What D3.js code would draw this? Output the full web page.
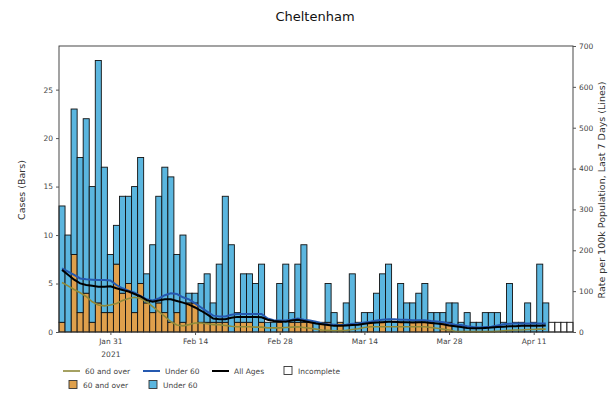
<!DOCTYPE html>
<html><head><meta charset="utf-8">
<script src="https://cdn.jsdelivr.net/npm/d3@7"></script>
<style>body{margin:0;background:#fff;} text{font-family:"DejaVu Sans",sans-serif;}</style>
</head><body><svg id="c" width="615" height="393"></svg>
<script>
const startDate = "2021-01-23";
const over60Cases = [1,0,8,2,4,1,3,2,2,7, 4,5,2,5,3,2,3,2,1,2, 1,3,3,1,1,1,1,1,0,1, 1,1,0,1,0,0,1,0,1,1, 1,1,0,1,1,0,1,0,0,0, 0,1,0,1,0,0,1,0,1,1, 1,1,0,1,1,0,0,0,0,0, 0,0,0,0,0,0,0,0,0,0,0];
const under60Cases = [12,10,15,16,18,14,25,15,6,4, 10,9,13,13,3,7,11,15,15,6, 9,1,1,4,5,2,6,13,9,1, 5,5,5,6,1,1,4,7,1,6, 8,0,1,0,4,2,0,3,6,1, 2,1,4,5,7,1,4,3,2,3, 4,1,2,1,2,3,1,2,1,1, 2,2,2,1,5,1,1,3,1,7,3];
const incompleteDays = ["2021-04-14","2021-04-15","2021-04-16","2021-04-17"];
const incompleteHeight = [1,1,1,1];
const rateOver60 = [121,113,104,96,87,74,66,64,66,70, 77,82,85,82,74,62,50,38,25,17, 15,18,22,22,20,18,18,16,14,13, 13,13,12,12,10,10,10,11,12,13, 11,9,7,5,4,3,3,4,6,8, 11,13,13,13,13,13,13,13,13,13, 13,11,9,7,5,2,1,1,1,1, 1,1,2,3,4,5,5,6,6,7,7];
const rateUnder60 = [156,148,140,131,129,128,127,127,126,115, 107,101,96,88,80,77,82,90,95,93, 85,80,70,60,50,40,38,38,42,44, 44,44,44,44,33,29,28,28,30,33, 30,28,25,21,19,18,17,18,20,21, 23,25,28,30,31,31,30,30,29,29, 29,27,26,24,21,18,17,14,12,11, 12,13,16,19,20,21,21,21,21,21,21];
const rateAll = [152,140,128,119,115,113,111,111,112,107, 103,99,93,87,78,74,77,80,80,76, 72,67,60,52,43,33,31,31,35,37, 37,37,37,36,30,27,26,25,28,30, 27,24,21,19,17,15,15,16,17,18, 20,22,23,24,25,25,24,24,23,24, 24,22,21,19,16,14,12,10,9,9, 10,11,12,13,14,14,15,15,15,15,16];
const leftTicks = [0,5,10,15,20,25];
const rightTicks = [0,100,200,300,400,500,600,700];
const dateTicks = ["2021-01-31","2021-02-14","2021-02-28","2021-03-14","2021-03-28","2021-04-11"];

const C = {orange:"#dfa04c", blue:"#5bb6df", lOld:"#8f8a3a", lYoung:"#2559b0", lAll:"#000"};
const svg = d3.select("#c");
const L=59, R=573, T=46, B=332;
const parse = d3.utcParse("%Y-%m-%d");
const day = 864e5;
const start = parse(startDate);
const dates = under60Cases.map((d,i)=> new Date(+start + i*day));
const x = d3.scaleUtc().domain([new Date(+start - day/2), new Date(+parse(incompleteDays[incompleteDays.length-1]) + day/2)]).range([L,R]);
const yL = d3.scaleLinear().domain([0,29.5]).range([B,T]);
const yR = d3.scaleLinear().domain([0,700]).range([B,T]);

const g = svg.append("g");
// bars
const bw = d => x(new Date(+d + day/2)) - x(new Date(+d - day/2));
g.selectAll("rect.old").data(dates).join("rect")
  .attr("x", d=>x(new Date(+d - day/2))).attr("width", d=>bw(d))
  .attr("y", (d,i)=>yL(over60Cases[i])).attr("height",(d,i)=>yL(0)-yL(over60Cases[i]))
  .attr("fill",C.orange).attr("stroke","#111").attr("stroke-width",0.9);
g.selectAll("rect.young").data(dates).join("rect")
  .attr("x", d=>x(new Date(+d - day/2))).attr("width", d=>bw(d))
  .attr("y", (d,i)=>yL(over60Cases[i]+under60Cases[i])).attr("height",(d,i)=>yL(over60Cases[i])-yL(over60Cases[i]+under60Cases[i]))
  .attr("fill",C.blue).attr("stroke","#111").attr("stroke-width",0.9);
g.selectAll("rect.inc").data(incompleteDays.map(parse)).join("rect")
  .attr("x", d=>x(new Date(+d - day/2))).attr("width", d=>bw(d))
  .attr("y", (d,i)=>yL(incompleteHeight[i])).attr("height",(d,i)=>yL(0)-yL(incompleteHeight[i]))
  .attr("fill","#fff").attr("stroke","#111").attr("stroke-width",0.9);
// lines
const line = arr => d3.line().x((d,i)=>x(dates[i])).y(d=>yR(d))(arr);
g.append("path").attr("d",line(rateOver60)).attr("fill","none").attr("stroke",C.lOld).attr("stroke-width",1.6);
g.append("path").attr("d",line(rateUnder60)).attr("fill","none").attr("stroke",C.lYoung).attr("stroke-width",2);
g.append("path").attr("d",line(rateAll)).attr("fill","none").attr("stroke",C.lAll).attr("stroke-width",2);

// frame
svg.append("rect").attr("x",L).attr("y",T).attr("width",R-L).attr("height",B-T).attr("fill","none").attr("stroke","#333").attr("stroke-width",0.9);

const fs = "7.5px", tc="#444";
const ax = svg.append("g").attr("transform",`translate(0,${B})`)
  .call(d3.axisBottom(x).tickValues(dateTicks.map(parse)).tickFormat(d3.utcFormat("%b %d")).tickSize(3).tickPadding(4));
ax.select(".domain").remove();
ax.selectAll("text").attr("font-size",fs).attr("fill",tc).attr("font-family","DejaVu Sans");
ax.selectAll("line").attr("stroke","#555");
ax.selectAll(".tick").filter((d,i)=>i===0).append("text").attr("y",20).attr("dy","0.71em").attr("fill",tc).attr("font-size",fs).attr("text-anchor","middle").text("2021");

const al = svg.append("g").attr("transform",`translate(${L},0)`).call(d3.axisLeft(yL).tickValues(leftTicks).tickSize(3).tickPadding(3));
al.select(".domain").remove();
al.selectAll("text").attr("font-size",fs).attr("fill",tc).attr("font-family","DejaVu Sans");
al.selectAll("line").attr("stroke","#555");
const ar = svg.append("g").attr("transform",`translate(${R},0)`).call(d3.axisRight(yR).tickValues(rightTicks).tickSize(3).tickPadding(3));
ar.select(".domain").remove();
ar.selectAll("text").attr("font-size",fs).attr("fill",tc).attr("font-family","DejaVu Sans");
ar.selectAll("line").attr("stroke","#555");

svg.append("text").attr("x",315).attr("y",21).attr("text-anchor","middle").attr("font-size","13px").attr("fill","#111").text("Cheltenham");
svg.append("text").attr("transform","translate(25,190) rotate(-90)").attr("text-anchor","middle").attr("font-size","9.5px").attr("fill","#333").text("Cases (Bars)");
svg.append("text").attr("transform","translate(605,190) rotate(-90)").attr("text-anchor","middle").attr("font-size","9.5px").attr("fill","#333").text("Rate per 100k Population, Last 7 Days (Lines)");

// legend
const lg = svg.append("g").attr("font-size",fs).attr("fill",tc);
const row1 = 371, row2 = 385;
[[63,C.lOld,"60 and over",1.6],[143,C.lYoung,"Under 60",2],[212,C.lAll,"All Ages",2]].forEach(([lx,c,t,w])=>{
  lg.append("line").attr("x1",lx).attr("x2",lx+17).attr("y1",row1).attr("y2",row1).attr("stroke",c).attr("stroke-width",w);
  lg.append("text").attr("x",lx+22).attr("y",row1+3).text(t);
});
[[284,row1,"#fff","Incomplete"],[69,row2,C.orange,"60 and over"],[149,row2,C.blue,"Under 60"]].forEach(([lx,ly,c,t])=>{
  lg.append("rect").attr("x",lx).attr("y",ly-4.5).attr("width",8).attr("height",8).attr("fill",c).attr("stroke","#333").attr("stroke-width",0.9);
  lg.append("text").attr("x",lx+14).attr("y",ly+3).text(t);
});
</script></body></html>
